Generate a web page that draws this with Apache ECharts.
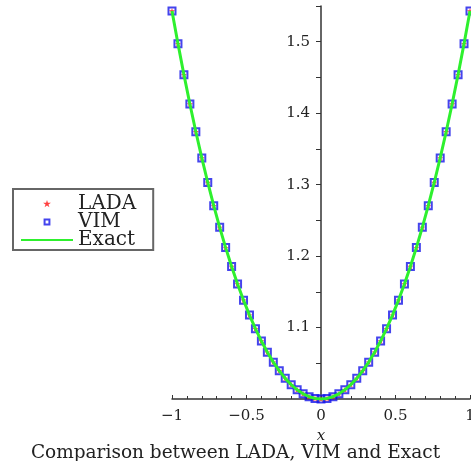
<!DOCTYPE html>
<html>
<head>
<meta charset="utf-8">
<script src="https://cdn.jsdelivr.net/npm/echarts@6/dist/echarts.min.js"></script>
<style>
  html, body { margin: 0; padding: 0; background: #fff; }
  #dom { width: 471px; height: 461px; }
</style>
</head>
<body>
<div id="dom"></div>
<script>
// x positions of the plotted points
var xValues = [-1, -0.96, -0.92, -0.88, -0.84, -0.8, -0.76, -0.72, -0.68, -0.64, -0.6, -0.56, -0.52,
  -0.48, -0.44, -0.4, -0.36, -0.32, -0.28, -0.24, -0.2, -0.16, -0.12, -0.08, -0.04, 0,
  0.04, 0.08, 0.12, 0.16, 0.2, 0.24, 0.28, 0.32, 0.36, 0.4, 0.44, 0.48, 0.52,
  0.56, 0.6, 0.64, 0.68, 0.72, 0.76, 0.8, 0.84, 0.88, 0.92, 0.96, 1];

var ladaY = [1.5431, 1.4973, 1.4539, 1.4128, 1.3740, 1.3374, 1.3030, 1.2706, 1.2402, 1.2119, 1.1855, 1.1609, 1.1383,
  1.1174, 1.0984, 1.0811, 1.0655, 1.0516, 1.0395, 1.0289, 1.0201, 1.0128, 1.0072, 1.0032, 1.0008, 1.0000,
  1.0008, 1.0032, 1.0072, 1.0128, 1.0201, 1.0289, 1.0395, 1.0516, 1.0655, 1.0811, 1.0984, 1.1174, 1.1383,
  1.1609, 1.1855, 1.2119, 1.2402, 1.2706, 1.3030, 1.3374, 1.3740, 1.4128, 1.4539, 1.4973, 1.5431];

var vimY = [1.5431, 1.4973, 1.4539, 1.4128, 1.3740, 1.3374, 1.3030, 1.2706, 1.2402, 1.2119, 1.1855, 1.1609, 1.1383,
  1.1174, 1.0984, 1.0811, 1.0655, 1.0516, 1.0395, 1.0289, 1.0201, 1.0128, 1.0072, 1.0032, 1.0008, 1.0000,
  1.0008, 1.0032, 1.0072, 1.0128, 1.0201, 1.0289, 1.0395, 1.0516, 1.0655, 1.0811, 1.0984, 1.1174, 1.1383,
  1.1609, 1.1855, 1.2119, 1.2402, 1.2706, 1.3030, 1.3374, 1.3740, 1.4128, 1.4539, 1.4973, 1.5431];

var exactY = [1.5431, 1.4973, 1.4539, 1.4128, 1.3740, 1.3374, 1.3030, 1.2706, 1.2402, 1.2119, 1.1855, 1.1609, 1.1383,
  1.1174, 1.0984, 1.0811, 1.0655, 1.0516, 1.0395, 1.0289, 1.0201, 1.0128, 1.0072, 1.0032, 1.0008, 1.0000,
  1.0008, 1.0032, 1.0072, 1.0128, 1.0201, 1.0289, 1.0395, 1.0516, 1.0655, 1.0811, 1.0984, 1.1174, 1.1383,
  1.1609, 1.1855, 1.2119, 1.2402, 1.2706, 1.3030, 1.3374, 1.3740, 1.4128, 1.4539, 1.4973, 1.5431];

var seriesNames = ['LADA', 'VIM', 'Exact'];

function pairs(ys) {
  var list = [];
  for (var i = 0; i < xValues.length; i++) {
    list.push([xValues[i], ys[i]]);
  }
  return list;
}

var font = 'DejaVu Serif';
var starPath = 'path://M0,-1L0.223,-0.307L0.951,-0.309L0.361,0.117L0.588,0.809L0,0.38L-0.588,0.809L-0.361,0.117L-0.951,-0.309L-0.223,-0.307Z';
// padded versions for the legend so the icon stays small
var starIcon = 'path://M-1.7,-1.7M1.7,1.7M0,-1L0.223,-0.307L0.951,-0.309L0.361,0.117L0.588,0.809L0,0.38L-0.588,0.809L-0.361,0.117L-0.951,-0.309L-0.223,-0.307Z';
var squareIcon = 'path://M-2.6,-2.6M2.6,2.6M-0.9,-0.9L0.9,-0.9L0.9,0.9L-0.9,0.9Z';

var gridLeft = 172;
var gridRight = 1;
var gridWidth = 471 - gridLeft - gridRight;

let myChart = echarts.init(document.getElementById('dom'));

let option = {
  animation: false,
  title: {
    text: 'Comparison between LADA, VIM and Exact',
    left: 'center',
    top: 439,
    textStyle: {
      fontFamily: font,
      fontSize: 18.5,
      fontWeight: 'normal',
      color: '#222'
    }
  },
  legend: {
    left: 13,
    top: 189,
    orient: 'vertical',
    itemWidth: 52,
    itemHeight: 14,
    itemGap: -2,
    padding: [5, 17, 0, 7],
    borderColor: '#666',
    borderWidth: 2,
    backgroundColor: '#fff',
    textStyle: {
      fontFamily: font,
      fontSize: 20,
      color: '#222'
    },
    data: [
      { name: 'LADA', icon: starIcon, itemStyle: { color: '#ff1010', borderWidth: 0 } },
      { name: 'VIM', icon: squareIcon, itemStyle: { color: 'transparent', borderColor: '#1515e8', borderWidth: 2 } },
      { name: 'Exact', itemStyle: { color: 'transparent', borderWidth: 0, opacity: 0 } }
    ]
  },
  grid: {
    left: gridLeft,
    right: gridRight,
    top: 6,
    bottom: 62,
    outerBoundsMode: 'none'
  },
  xAxis: {
    type: 'value',
    min: -1,
    max: 1,
    interval: 0.5,
    name: 'x',
    nameLocation: 'middle',
    nameGap: 30,
    nameTextStyle: {
      fontFamily: font,
      fontStyle: 'italic',
      fontSize: 15,
      color: '#222'
    },
    splitLine: { show: false },
    axisLine: { lineStyle: { color: '#333', width: 1.5 } },
    axisTick: { inside: true, length: 4, lineStyle: { color: '#333' } },
    minorTick: { show: true, splitNumber: 5, length: 3, lineStyle: { color: '#333' } },
    axisLabel: {
      margin: 10,
      fontFamily: font,
      fontSize: 15,
      color: '#222',
      formatter: function (v) {
        return String(v).replace('-', '\u2212');
      }
    }
  },
  yAxis: {
    type: 'value',
    min: 1,
    max: 1.55,
    interval: 0.1,
    // the axis sits at x = 0, the middle of the grid
    offset: -gridWidth / 2,
    splitLine: { show: false },
    axisLine: { onZero: false, lineStyle: { color: '#333', width: 1.5 } },
    axisTick: { length: 5, lineStyle: { color: '#333' } },
    minorTick: { show: true, splitNumber: 2, length: 5, lineStyle: { color: '#333' } },
    axisLabel: {
      margin: 11,
      fontFamily: font,
      fontSize: 15,
      color: '#222',
      showMinLabel: false,
      showMaxLabel: false
    }
  },
  series: [{
    name: seriesNames[1],
    type: 'scatter',
    symbol: 'rect',
    symbolSize: 7,
    itemStyle: {
      color: 'transparent',
      borderColor: '#1515e8',
      borderWidth: 2
    },
    data: pairs(vimY)
  }, {
    name: seriesNames[0],
    type: 'scatter',
    symbol: starPath,
    symbolSize: 6,
    itemStyle: {
      color: '#ff1010'
    },
    data: pairs(ladaY)
  }, {
    name: seriesNames[2],
    type: 'line',
    symbol: 'none',
    lineStyle: {
      color: '#2ef02e',
      width: 3
    },
    itemStyle: { color: '#2ef02e' },
    data: pairs(exactY)
  }]
};
myChart.setOption(option);
</script>
</body>
</html>
